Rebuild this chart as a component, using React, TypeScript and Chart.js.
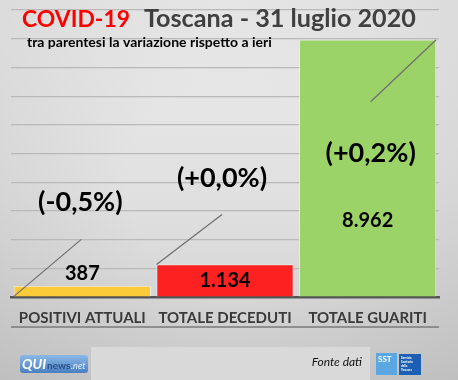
import React, { useEffect, useRef } from "react";
import { Chart, registerables } from "chart.js";

Chart.register(...registerables);

const categories = ["POSITIVI ATTUALI", "TOTALE DECEDUTI", "TOTALE GUARITI"];
const values = [387, 1134, 8962];
const valueLabels = ["387", "1.134", "8.962"];
const changeLabels = ["(-0,5%)", "(+0,0%)", "(+0,2%)"];
const barColors = ["#fbcb3a", "#fe2121", "#9cd369"];
const yMin = 0;
const yMax = 10000;
const yStep = 1000;
const titleRed = "COVID-19";
const titleGray = "Toscana - 31 luglio 2020";
const subtitle = "tra parentesi la variazione rispetto a ieri";
const sourceText = "Fonte dati";

// label placement styles (offsets relative to each bar)
const valueOffsets = [
  { dx: 0, dy: -12 },
  { dx: 0, dy: 16 },
  { dx: 0, dy: 181 },
];
const changeOffsets = [
  { dx: -2, dy: -72 },
  { dx: -3, dy: -102 },
  { dx: 3, dy: -67 },
];

const FONT = "Lato, 'Open Sans', sans-serif";

function fitText(ctx: any, text: string, x: number, y: number, targetW: number, size: number) {
  ctx.font = `bold ${size}px ${FONT}`;
  const w = ctx.measureText(text).width;
  const s = Math.max(10, Math.min(40, (size * targetW) / w));
  ctx.font = `bold ${s}px ${FONT}`;
  ctx.fillText(text, x, y);
}

const decorPlugin = {
  id: "decor",
  beforeDraw(chart: any) {
    const { ctx, width, height } = chart;
    ctx.save();
    const g = ctx.createLinearGradient(0, 0, 0, height);
    g.addColorStop(0, "#eaeaea");
    g.addColorStop(0.5, "#dedede");
    g.addColorStop(1, "#cbcbcb");
    ctx.fillStyle = g;
    ctx.fillRect(0, 0, width, height);
    const r = ctx.createRadialGradient(width / 2, height / 2, 100, width / 2, height / 2, 330);
    r.addColorStop(0, "rgba(255,255,255,0.08)");
    r.addColorStop(1, "rgba(0,0,0,0.07)");
    ctx.fillStyle = r;
    ctx.fillRect(0, 0, width, height);
    // footer box
    ctx.fillStyle = "#d9d9d9";
    ctx.fillRect(91, 347, 279, 33);
    ctx.restore();
  },
  afterDraw(chart: any) {
    const { ctx, chartArea } = chart;
    const meta = chart.getDatasetMeta(0);
    ctx.save();

    // line below category labels
    ctx.strokeStyle = "#7a7a7a";
    ctx.lineWidth = 1.5;
    ctx.beginPath();
    ctx.moveTo(chartArea.left, chartArea.bottom + 30);
    ctx.lineTo(chartArea.right, chartArea.bottom + 30);
    ctx.stroke();

    // leader lines + labels
    meta.data.forEach((bar: any, i: number) => {
      const w = bar.width;
      const left = bar.x - w / 2;
      const right = bar.x + w / 2;
      const top = bar.y;
      const base = bar.base;
      const vx = bar.x + valueOffsets[i].dx;
      const vy = top + valueOffsets[i].dy;
      const cx = bar.x + changeOffsets[i].dx;
      const cy = vy + changeOffsets[i].dy;

      ctx.strokeStyle = "#6e6e6e";
      ctx.lineWidth = 1.2;
      ctx.beginPath();
      if (i === 0) {
        ctx.moveTo(left, base);
        ctx.lineTo(bar.x - 1, base - 57);
      } else if (i === 1) {
        ctx.moveTo(left, top);
        ctx.lineTo(bar.x - 3, top - 50);
      } else {
        ctx.moveTo(bar.x + 3, top + 62);
        ctx.lineTo(right, top);
      }
      ctx.stroke();

      ctx.fillStyle = "#000";
      ctx.textAlign = "center";
      ctx.textBaseline = "middle";
      ctx.font = `bold 20px ${FONT}`;
      ctx.fillText(valueLabels[i], vx, vy);
      ctx.font = `bold 27px ${FONT}`;
      ctx.fillText(changeLabels[i], cx, cy);
    });

    // title
    ctx.textAlign = "left";
    ctx.textBaseline = "alphabetic";
    ctx.fillStyle = "#fe0000";
    fitText(ctx, titleRed, 22, 27, 108, 24);
    ctx.fillStyle = "#404040";
    fitText(ctx, titleGray, 144, 27, 272, 25);
    ctx.font = `bold 14px ${FONT}`;
    ctx.fillStyle = "#000";
    ctx.fillText(subtitle, 27, 47);

    // footer: source
    ctx.font = `italic 12px ${FONT}`;
    ctx.textAlign = "right";
    ctx.fillStyle = "#111";
    ctx.fillText(sourceText, 362, 366);

    // QUInews logo
    const lg = ctx.createLinearGradient(0, 355, 0, 373);
    lg.addColorStop(0, "#8cb8e8");
    lg.addColorStop(1, "#4a7fc0");
    ctx.fillStyle = lg;
    ctx.beginPath();
    (ctx as any).roundRect(20, 355, 68, 18, 3);
    ctx.fill();
    ctx.textAlign = "left";
    ctx.font = `bold italic 14px ${FONT}`;
    ctx.fillStyle = "#ffffff";
    ctx.fillText("QUI", 22, 369);
    ctx.font = `bold 10px ${FONT}`;
    ctx.fillStyle = "#2a4f86";
    ctx.fillText("news", 47, 369);
    ctx.font = `italic 9px ${FONT}`;
    ctx.fillStyle = "#e8f0ff";
    ctx.fillText(".net", 71, 369);

    // SST logo
    ctx.fillStyle = "#5aa7e2";
    ctx.fillRect(376, 353, 21, 22);
    ctx.fillStyle = "#1d60b3";
    ctx.fillRect(399, 354, 22, 21);
    ctx.font = `bold 8px ${FONT}`;
    ctx.fillStyle = "#ffffff";
    ctx.fillText("SST", 378, 362);
    ctx.font = `bold 3px ${FONT}`;
    ["Servizio", "Sanitario", "della", "Toscana"].forEach((t, k) => {
      ctx.fillText(t, 401, 359 + k * 4);
    });
    ctx.restore();
  },
};

export default function App() {
  const ref = useRef<HTMLCanvasElement | null>(null);
  useEffect(() => {
    if (!ref.current) return;
    const chart = new Chart(ref.current, {
      type: "bar",
      data: {
        labels: categories,
        datasets: [
          {
            data: values,
            backgroundColor: barColors,
            borderColor: "#f4f4f4",
            borderWidth: 0.8,
            barPercentage: 0.96,
            categoryPercentage: 1,
          },
        ],
      },
      options: {
        animation: false,
        responsive: false,
        maintainAspectRatio: false,
        layout: { padding: { left: 11, right: 19, top: 10, bottom: 49 } },
        plugins: {
          legend: { display: false },
          tooltip: { enabled: false },
          title: { display: false },
        },
        scales: {
          x: {
            grid: { display: false },
            border: { display: true, color: "#555555", width: 2.5 },
            ticks: {
              padding: 4,
              color: "#3a3a3a",
              font: { family: FONT, weight: "bold", size: 15 },
              maxRotation: 0,
              autoSkip: false,
            },
          },
          y: {
            min: yMin,
            max: yMax,
            ticks: { display: false, stepSize: yStep },
            grid: { color: "#b9b9b9", lineWidth: 1.2, drawTicks: false },
            border: { display: false },
          },
        },
      },
      plugins: [decorPlugin],
    });
    return () => chart.destroy();
  }, []);
  return (
    <div style={{ position: "fixed", left: 0, top: 0, width: 458, height: 380 }}>
      <canvas ref={ref} width={458} height={380} style={{ width: 458, height: 380 }} />
    </div>
  );
}
